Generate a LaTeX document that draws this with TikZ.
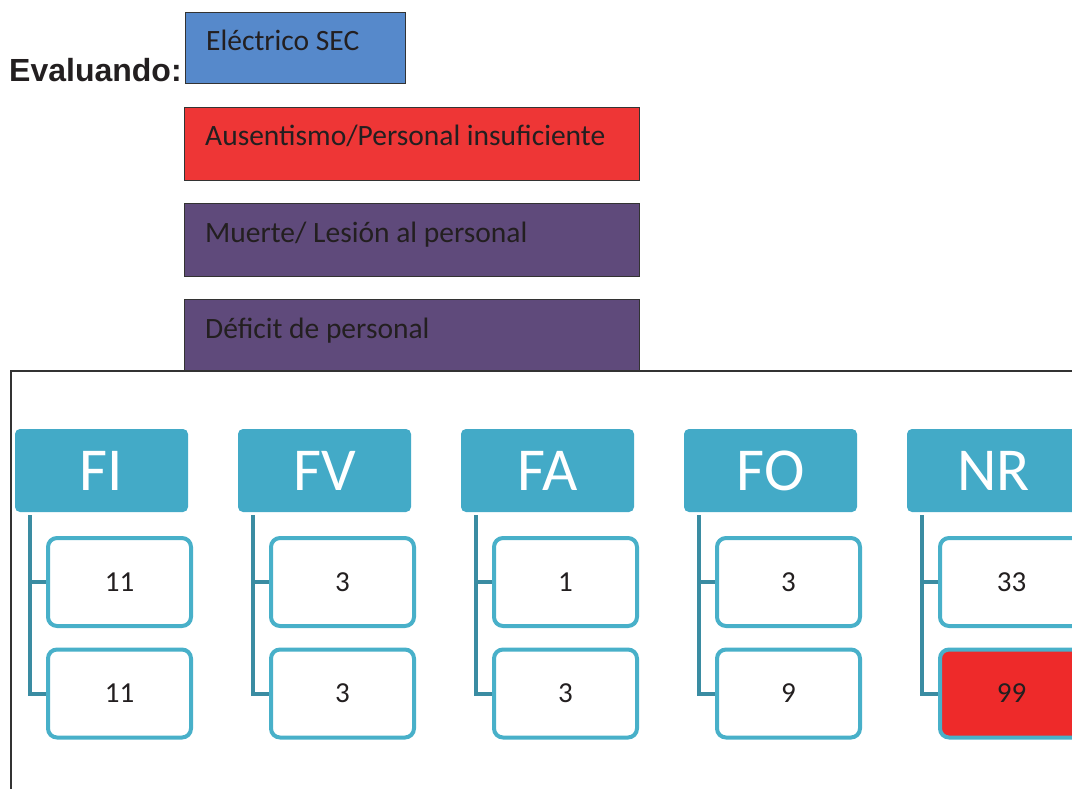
\documentclass[tikz,border=0pt]{standalone}
\usepackage{fontspec}
\setmainfont{Carlito}
\newfontfamily\arialfont{Liberation Sans}
\usetikzlibrary{calc}

\definecolor{catblue}{HTML}{5689CB}
\definecolor{catred}{HTML}{EE3636}
\definecolor{catpurple}{HTML}{5F4A7B}
\definecolor{headteal}{HTML}{43AAC7}
\definecolor{trunkteal}{HTML}{3A8CA2}
\definecolor{childteal}{HTML}{48B0C9}
\definecolor{alertred}{HTML}{EE2A2A}
\definecolor{ink}{HTML}{231F20}
\definecolor{framegray}{HTML}{333333}

\tikzset{
  catbox/.style={draw=framegray, line width=1.2pt, minimum width=455, minimum height=73, inner sep=0pt, anchor=north west},
  cattext/.style={anchor=base west, inner sep=0pt, text=ink, font=\fontsize{29.5}{29.5}\selectfont},
  head/.style={fill=headteal, rounded corners=5pt, minimum width=173, minimum height=83, inner sep=0pt, text=white, font=\fontsize{61}{61}\selectfont},
  child/.style={draw=childteal, line width=4pt, fill=white, rounded corners=9pt, minimum width=143, minimum height=88, inner sep=0pt, text=ink, font=\fontsize{29}{29}\selectfont},
  conn/.style={draw=trunkteal, line width=4pt},
  frame/.style={draw=framegray, line width=1.5pt}
}

\begin{document}
\begin{tikzpicture}[x=1pt,y=-1pt]
\useasboundingbox (0,0) rectangle (1072,788);
\clip (0,0) rectangle (1072,788);

% title
\node[anchor=base west, inner sep=0pt, text=ink, font=\arialfont\bfseries\fontsize{32}{32}\selectfont] (title) at (9,81) {Evaluando:};

% categories under evaluation
\node[catbox, fill=catblue, minimum width=220, minimum height=71] (c1) at (185,12) {};
\node[cattext] (c1t) at (206,50) {Eléctrico SEC};
\node[catbox, fill=catred] (c2) at (184,107) {};
\node[cattext] (c2t) at (205,145) {Ausentismo/Personal insuficiente};
\node[catbox, fill=catpurple] (c3) at (184,203) {};
\node[cattext] (c3t) at (205,242) {Muerte/ Lesión al personal};
\node[catbox, fill=catpurple, minimum height=72] (c4) at (184,299) {};
\node[cattext] (c4t) at (205,338) {Déficit de personal};

% outer frame
\draw[frame] (1090,371) -- (11,371) -- (11,800);

% score columns
\foreach \name/\cx/\va/\vb/\fb in {FI/101.5/11/11/white, FV/324.5/3/3/white, FA/547.5/1/3/white, FO/770.5/3/9/white, NR/993.5/33/99/alertred} {
  \node[head] (h\name) at (\cx,470.5) {\name};
  \node[child] (a\name) at (\cx+18,582) {\va};
  \node[child, fill=\fb] (b\name) at (\cx+18,693.5) {\vb};
  \coordinate (t\name) at ($(h\name.south west)+(15,3)$);
  \draw[conn] (t\name) |- (b\name.west);
  \draw[conn] (t\name |- a\name.west) -- (a\name.west);
}
\end{tikzpicture}
\end{document}
